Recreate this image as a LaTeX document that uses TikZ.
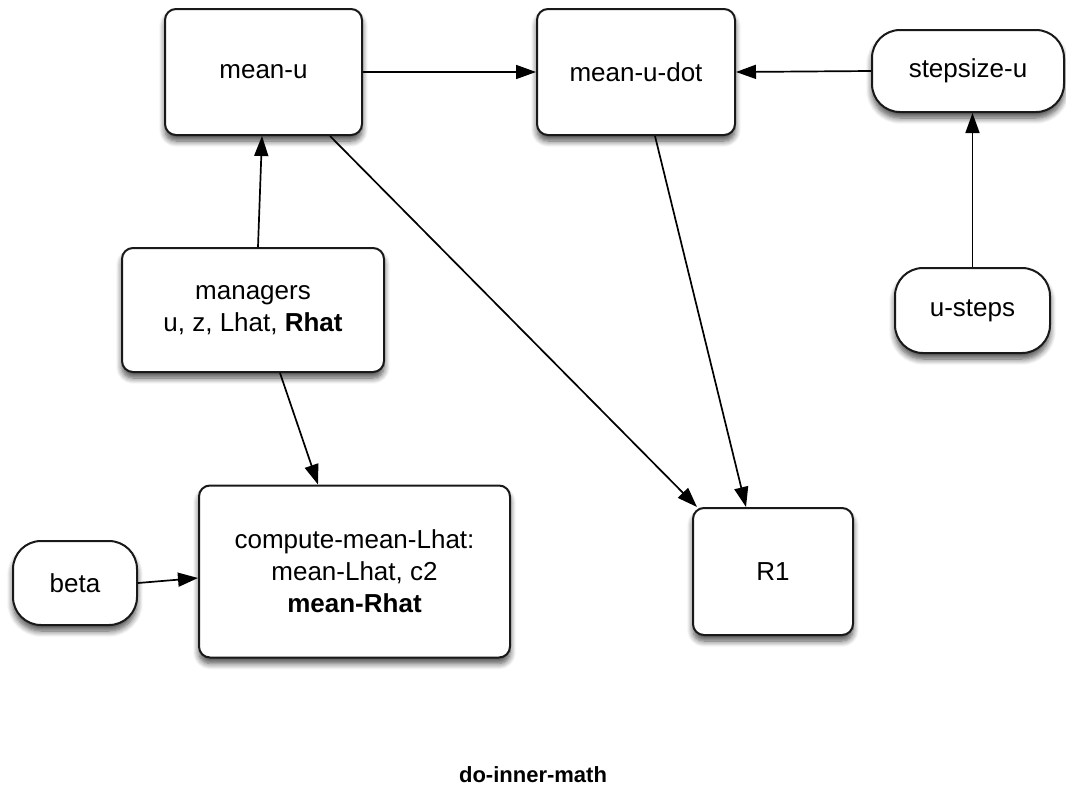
\documentclass[tikz,border=0pt]{standalone}
\usepackage{fontspec}
\setmainfont{Liberation Sans}
\usetikzlibrary{arrows.meta,shadows.blur}
\begin{document}
\begin{tikzpicture}[x=1pt,y=-1pt,
  font=\fontsize{26}{32}\selectfont,
  shade/.style={blur shadow={shadow xshift=0pt,shadow yshift=-6pt,shadow blur steps=8,shadow blur radius=6pt,shadow opacity=70}},
  box/.style={draw=black!90,line width=2pt,fill=white,rounded corners=11pt,align=center,inner sep=0pt,shade},
  pill/.style={box,rounded corners=28pt},
  conn/.style={line width=1.7pt,-{Triangle[length=20pt,width=14pt]}}]
\useasboundingbox (0,0) rectangle (1066,793);
% process boxes
\node[box,minimum width=197pt,minimum height=126pt] (meanu) at (263.5,72) {mean-u};
\node[box,minimum width=198pt,minimum height=126pt] (meanudot) at (636,72) {mean-u-dot};
\node[box,minimum width=262pt,minimum height=124pt] (managers) at (253,310) {managers\\u, z, Lhat, \textbf{Rhat}};
\node[box,minimum width=311pt,minimum height=172pt] (compute) at (354.5,571.5) {compute-mean-Lhat:\\mean-Lhat, c2\\\textbf{mean-Rhat}};
\node[box,minimum width=160pt,minimum height=127pt] (rone) at (773,571.5) {R1};
% inputs
\node[pill,minimum width=192pt,minimum height=82pt] (stepsize) at (968,71) {stepsize-u};
\node[pill,minimum width=155pt,minimum height=85pt] (usteps) at (972.5,310.5) {u-steps};
\node[pill,minimum width=124pt,minimum height=84pt] (beta) at (75,583) {beta};
% title
\node[font=\fontsize{22}{26}\selectfont\bfseries] (title) at (533,775) {do-inner-math};
% connectors
\draw[conn] (meanu.east) -- (meanudot.west);
\draw[conn] (stepsize.west) -- (meanudot.east);
\draw[conn] (managers.north -| 258,0) -- (meanu.south -| 262,0);
\draw[conn] (usteps.north) -- (stepsize.south -| usteps.north);
\draw[conn] (managers.south -| 280,0) -- (compute.north -| 318,0);
\draw[conn] (meanu.south -| 330,0) -- (rone.north -| 697,0);
\draw[conn] (meanudot.south -| 655,0) -- (rone.north -| 746,0);
\draw[conn] (beta.east) -- (compute.west |- 0,578);
\end{tikzpicture}
\end{document}
